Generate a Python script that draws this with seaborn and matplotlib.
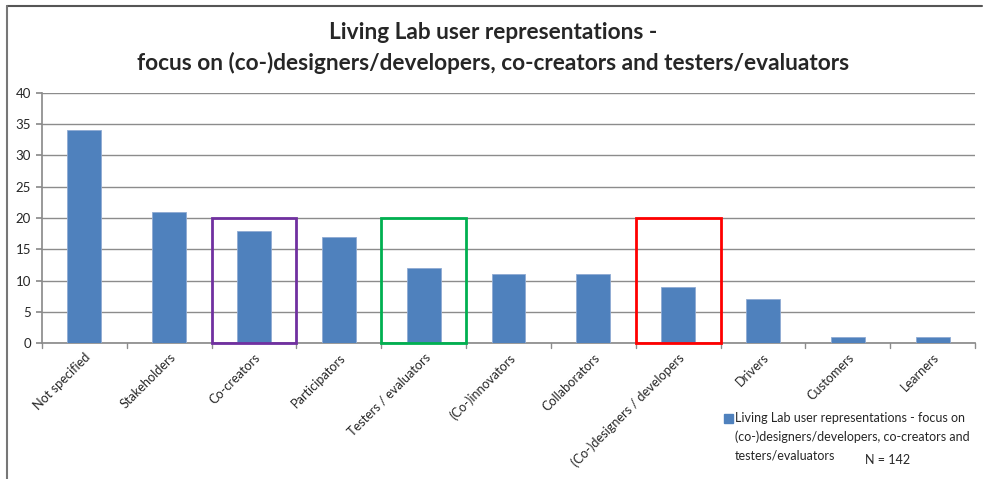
import matplotlib
matplotlib.use("Agg")
import matplotlib.pyplot as plt
import seaborn as sns
import pandas as pd
from matplotlib.patches import Rectangle
from matplotlib.lines import Line2D

categories = ["Not specified", "Stakeholders", "Co-creators", "Participators",
              "Testers / evaluators", "(Co-)innovators", "Collaborators",
              "(Co-)designers / developers", "Drivers", "Customers", "Learners"]
counts = [34, 21, 18, 17, 12, 11, 11, 9, 7, 1, 1]
highlight = {"Co-creators": "#7030A0", "Testers / evaluators": "#00B050",
             "(Co-)designers / developers": "#FF0000"}
highlight_top = 20
series_lines = ["Living Lab user representations - focus on",
                "(co-)designers/developers, co-creators and",
                "testers/evaluators"]
title = "Living Lab user representations -\nfocus on (co-)designers/developers, co-creators and testers/evaluators"
y_ticks = [0, 5, 10, 15, 20, 25, 30, 35, 40]

sns.set_theme(style="white")
plt.rcParams['font.family'] = ['Lato', 'DejaVu Sans']

df = pd.DataFrame({"category": categories, "count": counts})

fig = plt.figure(figsize=(9.87, 4.79), dpi=100)
ax = fig.add_axes([42/987, 1-343/479, (975-42)/987, (343-93)/479])

sns.barplot(data=df, x="category", y="count", color="#4F81BD", width=0.4,
            saturation=1, ax=ax, zorder=3, edgecolor="#8FAAD3", linewidth=0.6)

ax.set_ylim(0, 40)
ax.set_xlim(-0.5, len(categories) - 0.5)
ax.set_yticks(y_ticks)
ax.set_yticklabels([str(v) for v in y_ticks], fontsize=9.5)
ax.yaxis.grid(True, color="#8C8C8C", linewidth=1.0, zorder=0)
ax.set_axisbelow(True)
ax.set_xlabel("")
ax.set_ylabel("")

# category boundary ticks
ax.set_xticks(range(len(categories)))
ax.set_xticklabels(categories, rotation=45, ha="right", rotation_mode="anchor",
                   fontsize=9.2)
ax.tick_params(axis="x", length=0, pad=6)
for b in [i - 0.5 for i in range(len(categories) + 1)]:
    ax.plot([b, b], [0, -0.8], color="#8C8C8C", lw=1, clip_on=False, zorder=4)
ax.tick_params(axis="y", length=4, color="#8C8C8C", left=True, pad=4)

for side in ["top", "right"]:
    ax.spines[side].set_visible(False)
ax.spines["left"].set_color("#8C8C8C")
ax.spines["bottom"].set_color("#8C8C8C")

# highlight boxes
for i, cat in enumerate(categories):
    if cat in highlight:
        ax.add_patch(Rectangle((i - 0.5, 0), 1.0, highlight_top, fill=False,
                               edgecolor=highlight[cat], lw=2, zorder=5,
                               clip_on=False))

fig.text(0.5, 1 - 48/479, title, ha="center", va="center", fontsize=16.3,
         fontweight="bold", linespacing=1.45)

# legend
fig.patches.append(Rectangle((724/987, 1 - 423/479), 9/987, 9/479,
                             transform=fig.transFigure, color="#4F81BD"))
for k, line in enumerate(series_lines):
    fig.text(735/987, 1 - (418 + 19 * k)/479, line, ha="left", va="center",
             fontsize=9.0)
fig.text(865/987, 1 - 460/479, "N = 142", ha="left", va="center", fontsize=9.0)

# chart frame
fig.add_artist(Line2D([7/987, 982/987], [1 - 6/479, 1 - 6/479],
                      transform=fig.transFigure, color="#555555", lw=1.5))
fig.add_artist(Line2D([7/987, 7/987], [0, 1 - 6/479],
                      transform=fig.transFigure, color="#777777", lw=1.5))

fig.savefig("out.png", dpi=100, facecolor="white")
